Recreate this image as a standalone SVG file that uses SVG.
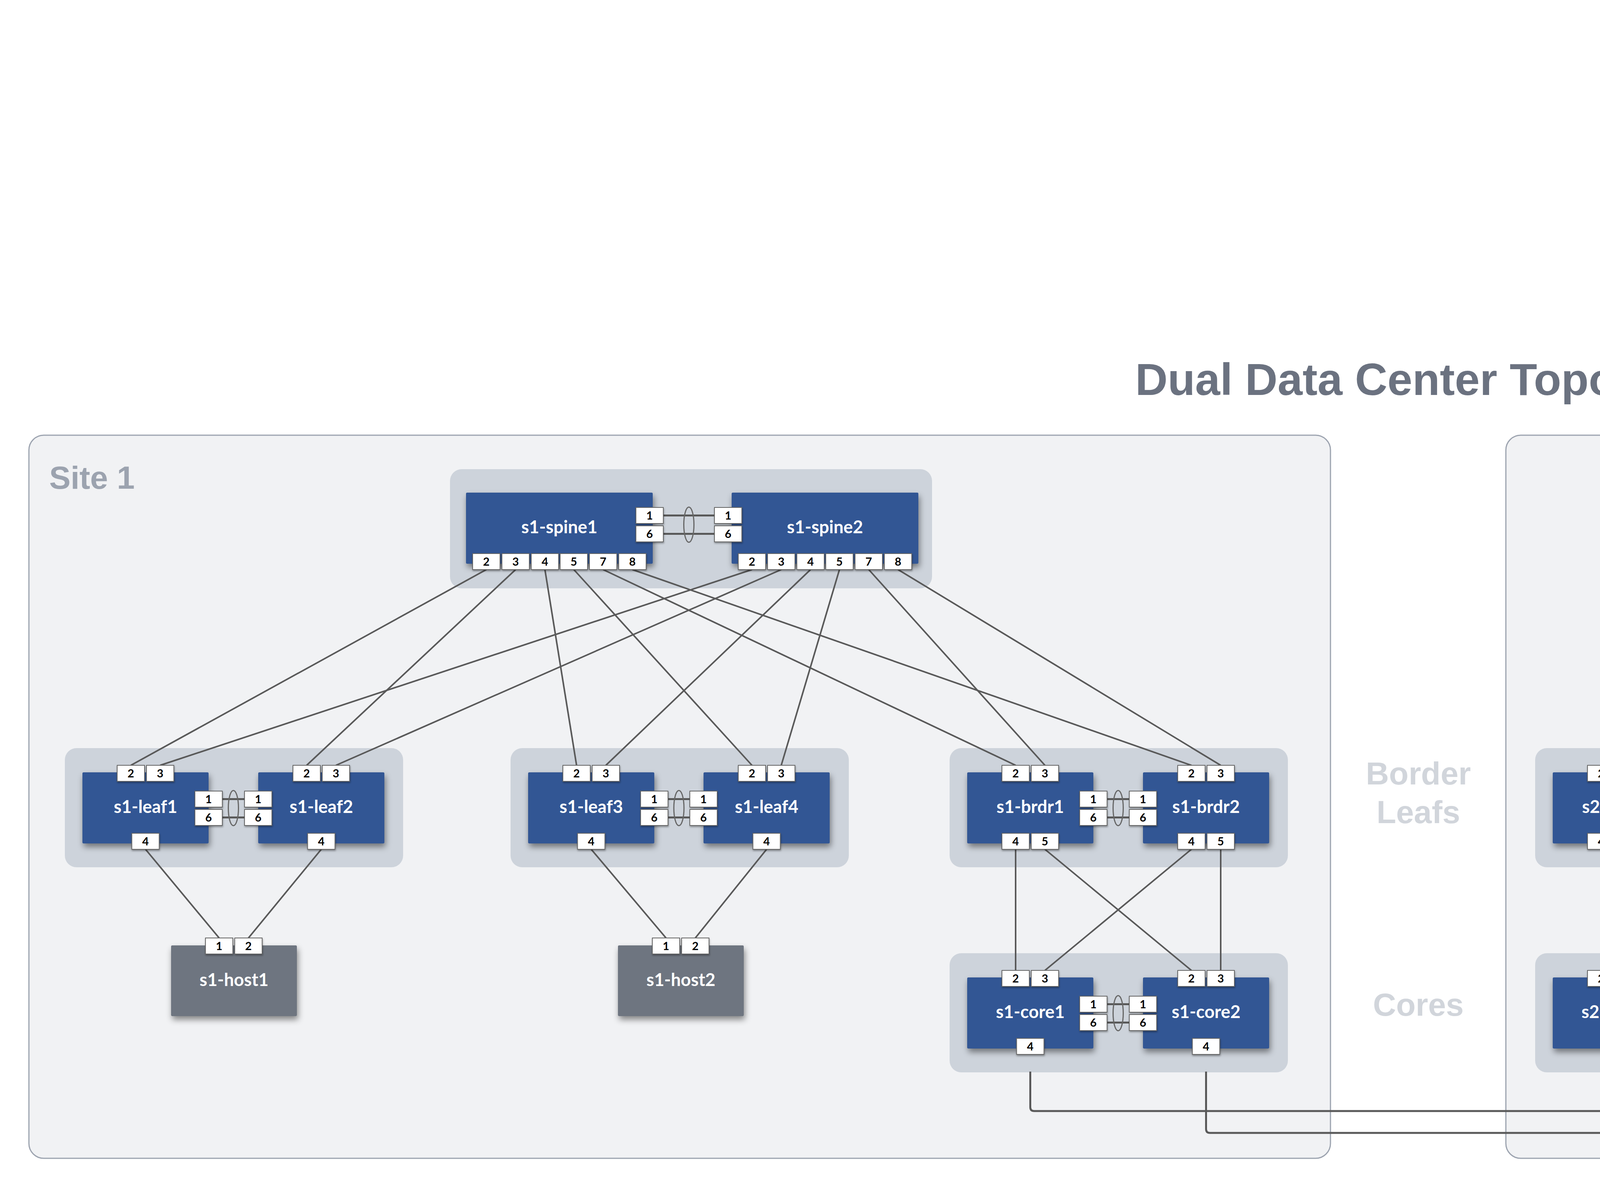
<svg xmlns="http://www.w3.org/2000/svg" width="7275" height="3041" viewBox="0 0 7275 3041">
<defs>
<filter id="sh" x="-20%" y="-20%" width="140%" height="160%"><feDropShadow dx="3" dy="9" stdDeviation="8" flood-color="#000" flood-opacity="0.45"/></filter>
<filter id="psh" x="-30%" y="-30%" width="160%" height="180%"><feDropShadow dx="1" dy="3" stdDeviation="2" flood-color="#000" flood-opacity="0.35"/></filter>
<style>
.site{fill:#f1f2f4;stroke:#9ca3af;stroke-width:3}
.grp{fill:#cdd3db}
.node{fill:#325694;filter:url(#sh)}
.host{fill:#6e7480;filter:url(#sh)}
.port{fill:#fff;stroke:#666;stroke-width:2;filter:url(#psh)}
.pt{font-family:Lato,"Liberation Sans",sans-serif;font-weight:700;font-size:29px;fill:#000;text-anchor:middle}
.lbl{font-family:Lato,"Liberation Sans",sans-serif;font-weight:700;font-size:45px;fill:#fff;text-anchor:middle}
.link{stroke:#595959;stroke-width:4;fill:none}
.xlink{stroke:#595959;stroke-width:5;fill:none}
.mlag{stroke:#595959;stroke-width:5}
.lag{fill:none;stroke:#666;stroke-width:3}
.sec{font-family:"Liberation Sans",Arial,sans-serif;font-weight:700;font-size:82px;fill:#d1d5db;text-anchor:middle}
.title{font-family:"Liberation Sans",Arial,sans-serif;font-weight:700;font-size:115px;fill:#6b7280;text-anchor:middle}
.sitelbl{font-family:"Liberation Sans",Arial,sans-serif;font-weight:700;font-size:82px;fill:#9ca3af}
</style>
</defs>
<rect width="7275" height="3041" fill="#fff"/>
<text class="title" x="3640" y="1011">Dual Data Center Topology</text>
<g id="site1"><rect class="site" x="74" y="1114" width="3332" height="1851" rx="38"/><text class="sitelbl" x="126" y="1251">Site 1</text></g>
<g id="site2"><rect class="site" x="3855" y="1114" width="3338" height="1851" rx="38"/><text class="sitelbl" x="7138" y="1251" text-anchor="end">Site 2</text></g>
<g id="labels">
<text class="sec" x="3631" y="2008">Border</text>
<text class="sec" x="3631" y="2107">Leafs</text>
<text class="sec" x="3631" y="2600">Cores</text>
</g>
<g id="clusters">
<rect class="grp" x="1152" y="1201" width="1234" height="305" rx="30"/>
<rect class="grp" x="4918" y="1201" width="1248" height="305" rx="30"/>
<rect class="grp" x="166" y="1915" width="866" height="305" rx="30"/>
<rect class="grp" x="1307" y="1915" width="866" height="305" rx="30"/>
<rect class="grp" x="2431" y="1915" width="866" height="305" rx="30"/>
<rect class="grp" x="2431" y="2440" width="866" height="305" rx="30"/>
<rect class="grp" x="3930" y="1915" width="866" height="305" rx="30"/>
<rect class="grp" x="3930" y="2440" width="866" height="305" rx="30"/>
<rect class="grp" x="5093" y="1915" width="866" height="305" rx="30"/>
<rect class="grp" x="6233" y="1915" width="866" height="305" rx="30"/>
</g>
<g id="connectors">
<line class="link" x1="1245" y1="1458" x2="335" y2="1959"/>
<line class="link" x1="1320" y1="1458" x2="785" y2="1959"/>
<line class="link" x1="1395" y1="1458" x2="1476" y2="1959"/>
<line class="link" x1="1469" y1="1458" x2="1925" y2="1959"/>
<line class="link" x1="1544" y1="1458" x2="2600" y2="1959"/>
<line class="link" x1="1619" y1="1458" x2="3050" y2="1959"/>
<line class="link" x1="1925" y1="1458" x2="410" y2="1959"/>
<line class="link" x1="2000" y1="1458" x2="860" y2="1959"/>
<line class="link" x1="2075" y1="1458" x2="1551" y2="1959"/>
<line class="link" x1="2149" y1="1458" x2="2000" y2="1959"/>
<line class="link" x1="2224" y1="1458" x2="2675" y2="1959"/>
<line class="link" x1="2299" y1="1458" x2="3125" y2="1959"/>
<line class="link" x1="5010" y1="1458" x2="4099" y2="1959"/>
<line class="link" x1="5085" y1="1458" x2="4549" y2="1959"/>
<line class="link" x1="5160" y1="1458" x2="5262" y2="1959"/>
<line class="link" x1="5234" y1="1458" x2="5712" y2="1959"/>
<line class="link" x1="5309" y1="1458" x2="6402" y2="1959"/>
<line class="link" x1="5384" y1="1458" x2="6852" y2="1959"/>
<line class="link" x1="5693" y1="1458" x2="4174" y2="1959"/>
<line class="link" x1="5768" y1="1458" x2="4624" y2="1959"/>
<line class="link" x1="5843" y1="1458" x2="5337" y2="1959"/>
<line class="link" x1="5917" y1="1458" x2="5787" y2="1959"/>
<line class="link" x1="5992" y1="1458" x2="6477" y2="1959"/>
<line class="link" x1="6067" y1="1458" x2="6927" y2="1959"/>
<line class="link" x1="2600" y1="2174" x2="2600" y2="2484"/>
<line class="link" x1="2675" y1="2174" x2="3050" y2="2484"/>
<line class="link" x1="3050" y1="2174" x2="2675" y2="2484"/>
<line class="link" x1="3125" y1="2174" x2="3125" y2="2484"/>
<line class="link" x1="4099" y1="2174" x2="4099" y2="2484"/>
<line class="link" x1="4174" y1="2174" x2="4549" y2="2484"/>
<line class="link" x1="4549" y1="2174" x2="4174" y2="2484"/>
<line class="link" x1="4624" y1="2174" x2="4624" y2="2484"/>
<line class="link" x1="372.5" y1="2174" x2="561" y2="2401"/>
<line class="link" x1="822.5" y1="2174" x2="636" y2="2401"/>
<line class="link" x1="1513.5" y1="2174" x2="1705" y2="2401"/>
<line class="link" x1="1962.5" y1="2174" x2="1780" y2="2401"/>
<line class="link" x1="5299.5" y1="2174" x2="5483" y2="2401"/>
<line class="link" x1="5749.5" y1="2174" x2="5558" y2="2401"/>
<line class="link" x1="6439.5" y1="2174" x2="6633" y2="2401"/>
<line class="link" x1="6889.5" y1="2174" x2="6708" y2="2401"/>
<path class="xlink" d="M2637.5 2743 V2834 Q2637.5 2844 2647.5 2844 H4126.5 Q4136.5 2844 4136.5 2834 V2743"/>
<path class="xlink" d="M3087.5 2743 V2890 Q3087.5 2900 3097.5 2900 H4576.5 Q4586.5 2900 4586.5 2890 V2743"/>
<line class="mlag" x1="1698" y1="1319.5" x2="1829" y2="1319.5"/><line class="mlag" x1="1698" y1="1366.5" x2="1829" y2="1366.5"/><ellipse class="lag" cx="1763.5" cy="1343" rx="13" ry="45"/>
<line class="mlag" x1="5463" y1="1319.5" x2="5597" y2="1319.5"/><line class="mlag" x1="5463" y1="1366.5" x2="5597" y2="1366.5"/><ellipse class="lag" cx="5530" cy="1343" rx="13" ry="45"/>
<line class="mlag" x1="569" y1="2045.5" x2="626" y2="2045.5"/><line class="mlag" x1="569" y1="2092.5" x2="626" y2="2092.5"/><ellipse class="lag" cx="597.5" cy="2068.5" rx="13" ry="45"/>
<line class="mlag" x1="1710" y1="2045.5" x2="1766" y2="2045.5"/><line class="mlag" x1="1710" y1="2092.5" x2="1766" y2="2092.5"/><ellipse class="lag" cx="1738" cy="2068.5" rx="13" ry="45"/>
<line class="mlag" x1="2834" y1="2045.5" x2="2891" y2="2045.5"/><line class="mlag" x1="2834" y1="2092.5" x2="2891" y2="2092.5"/><ellipse class="lag" cx="2862.5" cy="2068.5" rx="13" ry="45"/>
<line class="mlag" x1="2834" y1="2570.5" x2="2891" y2="2570.5"/><line class="mlag" x1="2834" y1="2617.5" x2="2891" y2="2617.5"/><ellipse class="lag" cx="2862.5" cy="2593.5" rx="13" ry="45"/>
<line class="mlag" x1="4333" y1="2045.5" x2="4390" y2="2045.5"/><line class="mlag" x1="4333" y1="2092.5" x2="4390" y2="2092.5"/><ellipse class="lag" cx="4361.5" cy="2068.5" rx="13" ry="45"/>
<line class="mlag" x1="4333" y1="2570.5" x2="4390" y2="2570.5"/><line class="mlag" x1="4333" y1="2617.5" x2="4390" y2="2617.5"/><ellipse class="lag" cx="4361.5" cy="2593.5" rx="13" ry="45"/>
<line class="mlag" x1="5496" y1="2045.5" x2="5553" y2="2045.5"/><line class="mlag" x1="5496" y1="2092.5" x2="5553" y2="2092.5"/><ellipse class="lag" cx="5524.5" cy="2068.5" rx="13" ry="45"/>
<line class="mlag" x1="6636" y1="2045.5" x2="6693" y2="2045.5"/><line class="mlag" x1="6636" y1="2092.5" x2="6693" y2="2092.5"/><ellipse class="lag" cx="6664.5" cy="2068.5" rx="13" ry="45"/>
</g>
<g id="s1-spine1"><rect class="node" x="1193" y="1261" width="478" height="182" rx="3"/><text class="lbl" x="1432" y="1365">s1-spine1</text>
<rect class="port" x="1210" y="1417" width="70" height="41"/><text class="pt" x="1245" y="1448">2</text>
<rect class="port" x="1285" y="1417" width="70" height="41"/><text class="pt" x="1320" y="1448">3</text>
<rect class="port" x="1360" y="1417" width="70" height="41"/><text class="pt" x="1395" y="1448">4</text>
<rect class="port" x="1434" y="1417" width="70" height="41"/><text class="pt" x="1469" y="1448">5</text>
<rect class="port" x="1509" y="1417" width="70" height="41"/><text class="pt" x="1544" y="1448">7</text>
<rect class="port" x="1584" y="1417" width="70" height="41"/><text class="pt" x="1619" y="1448">8</text>
<rect class="port" x="1628" y="1299" width="70" height="41"/><text class="pt" x="1663" y="1330">1</text>
<rect class="port" x="1628" y="1346" width="70" height="41"/><text class="pt" x="1663" y="1377">6</text></g>
<g id="s1-spine2"><rect class="node" x="1873" y="1261" width="478" height="182" rx="3"/><text class="lbl" x="2112" y="1365">s1-spine2</text>
<rect class="port" x="1890" y="1417" width="70" height="41"/><text class="pt" x="1925" y="1448">2</text>
<rect class="port" x="1965" y="1417" width="70" height="41"/><text class="pt" x="2000" y="1448">3</text>
<rect class="port" x="2040" y="1417" width="70" height="41"/><text class="pt" x="2075" y="1448">4</text>
<rect class="port" x="2114" y="1417" width="70" height="41"/><text class="pt" x="2149" y="1448">5</text>
<rect class="port" x="2189" y="1417" width="70" height="41"/><text class="pt" x="2224" y="1448">7</text>
<rect class="port" x="2264" y="1417" width="70" height="41"/><text class="pt" x="2299" y="1448">8</text>
<rect class="port" x="1829" y="1299" width="70" height="41"/><text class="pt" x="1864" y="1330">1</text>
<rect class="port" x="1829" y="1346" width="70" height="41"/><text class="pt" x="1864" y="1377">6</text></g>
<g id="s2-spine1"><rect class="node" x="4958" y="1261" width="478" height="182" rx="3"/><text class="lbl" x="5197" y="1365">s2-spine1</text>
<rect class="port" x="4975" y="1417" width="70" height="41"/><text class="pt" x="5010" y="1448">7</text>
<rect class="port" x="5050" y="1417" width="70" height="41"/><text class="pt" x="5085" y="1448">8</text>
<rect class="port" x="5125" y="1417" width="70" height="41"/><text class="pt" x="5160" y="1448">2</text>
<rect class="port" x="5199" y="1417" width="70" height="41"/><text class="pt" x="5234" y="1448">3</text>
<rect class="port" x="5274" y="1417" width="70" height="41"/><text class="pt" x="5309" y="1448">4</text>
<rect class="port" x="5349" y="1417" width="70" height="41"/><text class="pt" x="5384" y="1448">5</text>
<rect class="port" x="5393" y="1299" width="70" height="41"/><text class="pt" x="5428" y="1330">1</text>
<rect class="port" x="5393" y="1346" width="70" height="41"/><text class="pt" x="5428" y="1377">6</text></g>
<g id="s2-spine2"><rect class="node" x="5641" y="1261" width="478" height="182" rx="3"/><text class="lbl" x="5880" y="1365">s2-spine2</text>
<rect class="port" x="5658" y="1417" width="70" height="41"/><text class="pt" x="5693" y="1448">7</text>
<rect class="port" x="5733" y="1417" width="70" height="41"/><text class="pt" x="5768" y="1448">8</text>
<rect class="port" x="5808" y="1417" width="70" height="41"/><text class="pt" x="5843" y="1448">2</text>
<rect class="port" x="5882" y="1417" width="70" height="41"/><text class="pt" x="5917" y="1448">3</text>
<rect class="port" x="5957" y="1417" width="70" height="41"/><text class="pt" x="5992" y="1448">4</text>
<rect class="port" x="6032" y="1417" width="70" height="41"/><text class="pt" x="6067" y="1448">5</text>
<rect class="port" x="5597" y="1299" width="70" height="41"/><text class="pt" x="5632" y="1330">1</text>
<rect class="port" x="5597" y="1346" width="70" height="41"/><text class="pt" x="5632" y="1377">6</text></g>
<g id="s1-leaf1"><rect class="node" x="211" y="1977" width="323" height="182" rx="3"/><text class="lbl" x="372.5" y="2081">s1-leaf1</text>
<rect class="port" x="300" y="1959" width="70" height="41"/><text class="pt" x="335" y="1990">2</text>
<rect class="port" x="375" y="1959" width="70" height="41"/><text class="pt" x="410" y="1990">3</text>
<rect class="port" x="337.5" y="2133" width="70" height="41"/><text class="pt" x="372.5" y="2164">4</text>
<rect class="port" x="499" y="2025" width="70" height="41"/><text class="pt" x="534" y="2056">1</text>
<rect class="port" x="499" y="2072" width="70" height="41"/><text class="pt" x="534" y="2103">6</text></g>
<g id="s1-leaf2"><rect class="node" x="661" y="1977" width="323" height="182" rx="3"/><text class="lbl" x="822.5" y="2081">s1-leaf2</text>
<rect class="port" x="750" y="1959" width="70" height="41"/><text class="pt" x="785" y="1990">2</text>
<rect class="port" x="825" y="1959" width="70" height="41"/><text class="pt" x="860" y="1990">3</text>
<rect class="port" x="787.5" y="2133" width="70" height="41"/><text class="pt" x="822.5" y="2164">4</text>
<rect class="port" x="626" y="2025" width="70" height="41"/><text class="pt" x="661" y="2056">1</text>
<rect class="port" x="626" y="2072" width="70" height="41"/><text class="pt" x="661" y="2103">6</text></g>
<g id="s1-leaf3"><rect class="node" x="1352" y="1977" width="323" height="182" rx="3"/><text class="lbl" x="1513.5" y="2081">s1-leaf3</text>
<rect class="port" x="1441" y="1959" width="70" height="41"/><text class="pt" x="1476" y="1990">2</text>
<rect class="port" x="1516" y="1959" width="70" height="41"/><text class="pt" x="1551" y="1990">3</text>
<rect class="port" x="1478.5" y="2133" width="70" height="41"/><text class="pt" x="1513.5" y="2164">4</text>
<rect class="port" x="1640" y="2025" width="70" height="41"/><text class="pt" x="1675" y="2056">1</text>
<rect class="port" x="1640" y="2072" width="70" height="41"/><text class="pt" x="1675" y="2103">6</text></g>
<g id="s1-leaf4"><rect class="node" x="1801" y="1977" width="323" height="182" rx="3"/><text class="lbl" x="1962.5" y="2081">s1-leaf4</text>
<rect class="port" x="1890" y="1959" width="70" height="41"/><text class="pt" x="1925" y="1990">2</text>
<rect class="port" x="1965" y="1959" width="70" height="41"/><text class="pt" x="2000" y="1990">3</text>
<rect class="port" x="1927.5" y="2133" width="70" height="41"/><text class="pt" x="1962.5" y="2164">4</text>
<rect class="port" x="1766" y="2025" width="70" height="41"/><text class="pt" x="1801" y="2056">1</text>
<rect class="port" x="1766" y="2072" width="70" height="41"/><text class="pt" x="1801" y="2103">6</text></g>
<g id="s1-brdr1"><rect class="node" x="2476" y="1977" width="323" height="182" rx="3"/><text class="lbl" x="2637.5" y="2081">s1-brdr1</text>
<rect class="port" x="2565" y="1959" width="70" height="41"/><text class="pt" x="2600" y="1990">2</text>
<rect class="port" x="2640" y="1959" width="70" height="41"/><text class="pt" x="2675" y="1990">3</text>
<rect class="port" x="2565" y="2133" width="70" height="41"/><text class="pt" x="2600" y="2164">4</text>
<rect class="port" x="2640" y="2133" width="70" height="41"/><text class="pt" x="2675" y="2164">5</text>
<rect class="port" x="2764" y="2025" width="70" height="41"/><text class="pt" x="2799" y="2056">1</text>
<rect class="port" x="2764" y="2072" width="70" height="41"/><text class="pt" x="2799" y="2103">6</text></g>
<g id="s1-brdr2"><rect class="node" x="2926" y="1977" width="323" height="182" rx="3"/><text class="lbl" x="3087.5" y="2081">s1-brdr2</text>
<rect class="port" x="3015" y="1959" width="70" height="41"/><text class="pt" x="3050" y="1990">2</text>
<rect class="port" x="3090" y="1959" width="70" height="41"/><text class="pt" x="3125" y="1990">3</text>
<rect class="port" x="3015" y="2133" width="70" height="41"/><text class="pt" x="3050" y="2164">4</text>
<rect class="port" x="3090" y="2133" width="70" height="41"/><text class="pt" x="3125" y="2164">5</text>
<rect class="port" x="2891" y="2025" width="70" height="41"/><text class="pt" x="2926" y="2056">1</text>
<rect class="port" x="2891" y="2072" width="70" height="41"/><text class="pt" x="2926" y="2103">6</text></g>
<g id="s1-core1"><rect class="node" x="2476" y="2502" width="323" height="182" rx="3"/><text class="lbl" x="2637.5" y="2606">s1-core1</text>
<rect class="port" x="2565" y="2484" width="70" height="41"/><text class="pt" x="2600" y="2515">2</text>
<rect class="port" x="2640" y="2484" width="70" height="41"/><text class="pt" x="2675" y="2515">3</text>
<rect class="port" x="2602.5" y="2658" width="70" height="41"/><text class="pt" x="2637.5" y="2689">4</text>
<rect class="port" x="2764" y="2550" width="70" height="41"/><text class="pt" x="2799" y="2581">1</text>
<rect class="port" x="2764" y="2597" width="70" height="41"/><text class="pt" x="2799" y="2628">6</text></g>
<g id="s1-core2"><rect class="node" x="2926" y="2502" width="323" height="182" rx="3"/><text class="lbl" x="3087.5" y="2606">s1-core2</text>
<rect class="port" x="3015" y="2484" width="70" height="41"/><text class="pt" x="3050" y="2515">2</text>
<rect class="port" x="3090" y="2484" width="70" height="41"/><text class="pt" x="3125" y="2515">3</text>
<rect class="port" x="3052.5" y="2658" width="70" height="41"/><text class="pt" x="3087.5" y="2689">4</text>
<rect class="port" x="2891" y="2550" width="70" height="41"/><text class="pt" x="2926" y="2581">1</text>
<rect class="port" x="2891" y="2597" width="70" height="41"/><text class="pt" x="2926" y="2628">6</text></g>
<g id="s2-brdr1"><rect class="node" x="3975" y="1977" width="323" height="182" rx="3"/><text class="lbl" x="4136.5" y="2081">s2-brdr1</text>
<rect class="port" x="4064" y="1959" width="70" height="41"/><text class="pt" x="4099" y="1990">2</text>
<rect class="port" x="4139" y="1959" width="70" height="41"/><text class="pt" x="4174" y="1990">3</text>
<rect class="port" x="4064" y="2133" width="70" height="41"/><text class="pt" x="4099" y="2164">4</text>
<rect class="port" x="4139" y="2133" width="70" height="41"/><text class="pt" x="4174" y="2164">5</text>
<rect class="port" x="4263" y="2025" width="70" height="41"/><text class="pt" x="4298" y="2056">1</text>
<rect class="port" x="4263" y="2072" width="70" height="41"/><text class="pt" x="4298" y="2103">6</text></g>
<g id="s2-brdr2"><rect class="node" x="4425" y="1977" width="323" height="182" rx="3"/><text class="lbl" x="4586.5" y="2081">s2-brdr2</text>
<rect class="port" x="4514" y="1959" width="70" height="41"/><text class="pt" x="4549" y="1990">2</text>
<rect class="port" x="4589" y="1959" width="70" height="41"/><text class="pt" x="4624" y="1990">3</text>
<rect class="port" x="4514" y="2133" width="70" height="41"/><text class="pt" x="4549" y="2164">4</text>
<rect class="port" x="4589" y="2133" width="70" height="41"/><text class="pt" x="4624" y="2164">5</text>
<rect class="port" x="4390" y="2025" width="70" height="41"/><text class="pt" x="4425" y="2056">1</text>
<rect class="port" x="4390" y="2072" width="70" height="41"/><text class="pt" x="4425" y="2103">6</text></g>
<g id="s2-core1"><rect class="node" x="3975" y="2502" width="323" height="182" rx="3"/><text class="lbl" x="4136.5" y="2606">s2-core1</text>
<rect class="port" x="4064" y="2484" width="70" height="41"/><text class="pt" x="4099" y="2515">2</text>
<rect class="port" x="4139" y="2484" width="70" height="41"/><text class="pt" x="4174" y="2515">3</text>
<rect class="port" x="4101.5" y="2658" width="70" height="41"/><text class="pt" x="4136.5" y="2689">4</text>
<rect class="port" x="4263" y="2550" width="70" height="41"/><text class="pt" x="4298" y="2581">1</text>
<rect class="port" x="4263" y="2597" width="70" height="41"/><text class="pt" x="4298" y="2628">6</text></g>
<g id="s2-core2"><rect class="node" x="4425" y="2502" width="323" height="182" rx="3"/><text class="lbl" x="4586.5" y="2606">s2-core2</text>
<rect class="port" x="4514" y="2484" width="70" height="41"/><text class="pt" x="4549" y="2515">2</text>
<rect class="port" x="4589" y="2484" width="70" height="41"/><text class="pt" x="4624" y="2515">3</text>
<rect class="port" x="4551.5" y="2658" width="70" height="41"/><text class="pt" x="4586.5" y="2689">4</text>
<rect class="port" x="4390" y="2550" width="70" height="41"/><text class="pt" x="4425" y="2581">1</text>
<rect class="port" x="4390" y="2597" width="70" height="41"/><text class="pt" x="4425" y="2628">6</text></g>
<g id="s2-leaf1"><rect class="node" x="5138" y="1977" width="323" height="182" rx="3"/><text class="lbl" x="5299.5" y="2081">s2-leaf1</text>
<rect class="port" x="5227" y="1959" width="70" height="41"/><text class="pt" x="5262" y="1990">2</text>
<rect class="port" x="5302" y="1959" width="70" height="41"/><text class="pt" x="5337" y="1990">3</text>
<rect class="port" x="5264.5" y="2133" width="70" height="41"/><text class="pt" x="5299.5" y="2164">4</text>
<rect class="port" x="5426" y="2025" width="70" height="41"/><text class="pt" x="5461" y="2056">1</text>
<rect class="port" x="5426" y="2072" width="70" height="41"/><text class="pt" x="5461" y="2103">6</text></g>
<g id="s2-leaf2"><rect class="node" x="5588" y="1977" width="323" height="182" rx="3"/><text class="lbl" x="5749.5" y="2081">s2-leaf2</text>
<rect class="port" x="5677" y="1959" width="70" height="41"/><text class="pt" x="5712" y="1990">2</text>
<rect class="port" x="5752" y="1959" width="70" height="41"/><text class="pt" x="5787" y="1990">3</text>
<rect class="port" x="5714.5" y="2133" width="70" height="41"/><text class="pt" x="5749.5" y="2164">4</text>
<rect class="port" x="5553" y="2025" width="70" height="41"/><text class="pt" x="5588" y="2056">1</text>
<rect class="port" x="5553" y="2072" width="70" height="41"/><text class="pt" x="5588" y="2103">6</text></g>
<g id="s2-leaf3"><rect class="node" x="6278" y="1977" width="323" height="182" rx="3"/><text class="lbl" x="6439.5" y="2081">s2-leaf3</text>
<rect class="port" x="6367" y="1959" width="70" height="41"/><text class="pt" x="6402" y="1990">2</text>
<rect class="port" x="6442" y="1959" width="70" height="41"/><text class="pt" x="6477" y="1990">3</text>
<rect class="port" x="6404.5" y="2133" width="70" height="41"/><text class="pt" x="6439.5" y="2164">4</text>
<rect class="port" x="6566" y="2025" width="70" height="41"/><text class="pt" x="6601" y="2056">1</text>
<rect class="port" x="6566" y="2072" width="70" height="41"/><text class="pt" x="6601" y="2103">6</text></g>
<g id="s2-leaf4"><rect class="node" x="6728" y="1977" width="323" height="182" rx="3"/><text class="lbl" x="6889.5" y="2081">s2-leaf4</text>
<rect class="port" x="6817" y="1959" width="70" height="41"/><text class="pt" x="6852" y="1990">2</text>
<rect class="port" x="6892" y="1959" width="70" height="41"/><text class="pt" x="6927" y="1990">3</text>
<rect class="port" x="6854.5" y="2133" width="70" height="41"/><text class="pt" x="6889.5" y="2164">4</text>
<rect class="port" x="6693" y="2025" width="70" height="41"/><text class="pt" x="6728" y="2056">1</text>
<rect class="port" x="6693" y="2072" width="70" height="41"/><text class="pt" x="6728" y="2103">6</text></g>
<g id="s1-host1"><rect class="host" x="438" y="2420" width="322" height="181" rx="3"/><text class="lbl" x="599" y="2524">s1-host1</text>
<rect class="port" x="526" y="2401" width="70" height="41"/><text class="pt" x="561" y="2432">1</text>
<rect class="port" x="601" y="2401" width="70" height="41"/><text class="pt" x="636" y="2432">2</text></g>
<g id="s1-host2"><rect class="host" x="1582" y="2420" width="322" height="181" rx="3"/><text class="lbl" x="1743" y="2524">s1-host2</text>
<rect class="port" x="1670" y="2401" width="70" height="41"/><text class="pt" x="1705" y="2432">1</text>
<rect class="port" x="1745" y="2401" width="70" height="41"/><text class="pt" x="1780" y="2432">2</text></g>
<g id="s2-host1"><rect class="host" x="5360" y="2420" width="322" height="181" rx="3"/><text class="lbl" x="5521" y="2524">s2-host1</text>
<rect class="port" x="5448" y="2401" width="70" height="41"/><text class="pt" x="5483" y="2432">1</text>
<rect class="port" x="5523" y="2401" width="70" height="41"/><text class="pt" x="5558" y="2432">2</text></g>
<g id="s2-host2"><rect class="host" x="6510" y="2420" width="322" height="181" rx="3"/><text class="lbl" x="6671" y="2524">s2-host2</text>
<rect class="port" x="6598" y="2401" width="70" height="41"/><text class="pt" x="6633" y="2432">1</text>
<rect class="port" x="6673" y="2401" width="70" height="41"/><text class="pt" x="6708" y="2432">2</text></g>
</svg>
